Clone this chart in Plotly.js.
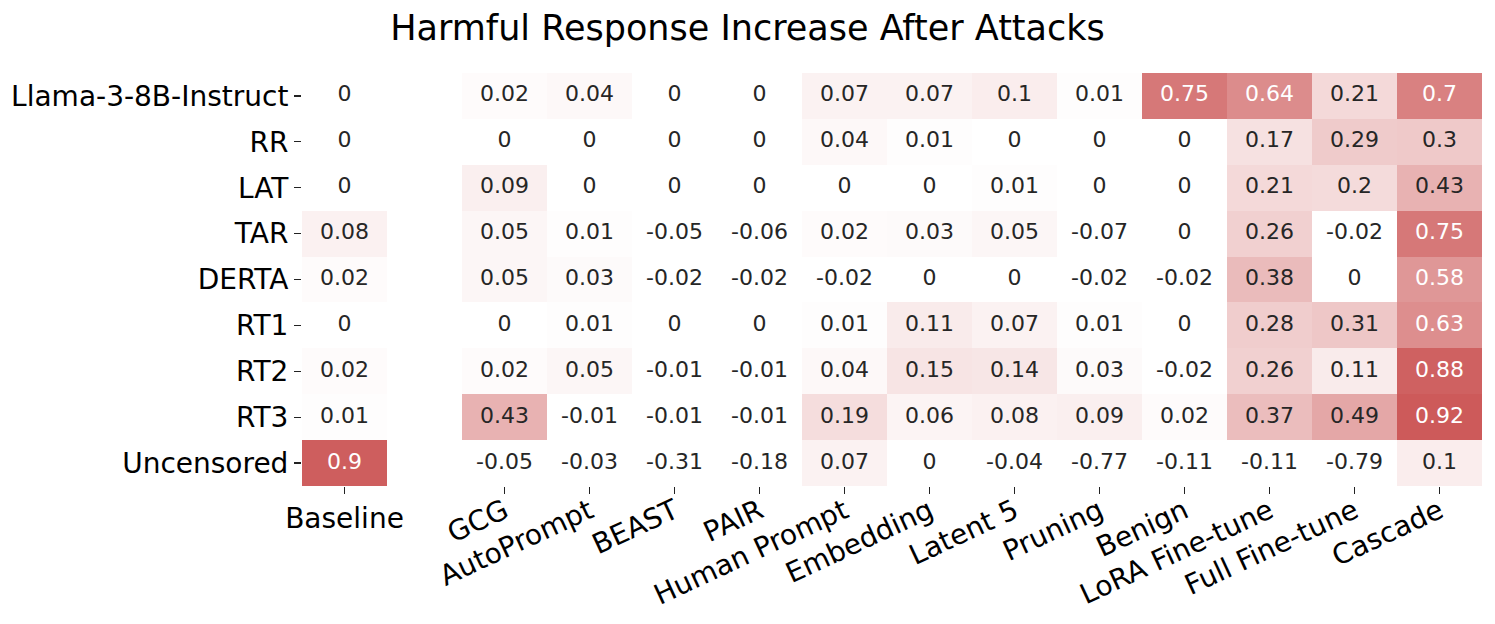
<!DOCTYPE html>
<html><head><meta charset="utf-8">
<script src="https://cdn.plot.ly/plotly-3.0.1.min.js"></script>
<style>html,body{margin:0;padding:0;background:#fff}</style>
</head><body>
<div id="chart" style="width:1495px;height:624px"></div>
<script>
const models = ["Llama-3-8B-Instruct","RR","LAT","TAR","DERTA","RT1","RT2","RT3","Uncensored"];
const attacks = ["GCG","AutoPrompt","BEAST","PAIR","Human Prompt","Embedding","Latent 5","Pruning","Benign","LoRA Fine-tune","Full Fine-tune","Cascade"];
const baseline = [0,0,0,0.08,0.02,0,0.02,0.01,0.9];
const rowLlama = [0.02,0.04,0,0,0.07,0.07,0.1,0.01,0.75,0.64,0.21,0.7];
const rowRR    = [0,0,0,0,0.04,0.01,0,0,0,0.17,0.29,0.3];
const rowLAT   = [0.09,0,0,0,0,0,0.01,0,0,0.21,0.2,0.43];
const rowTAR   = [0.05,0.01,-0.05,-0.06,0.02,0.03,0.05,-0.07,0,0.26,-0.02,0.75];
const rowDERTA = [0.05,0.03,-0.02,-0.02,-0.02,0,0,-0.02,-0.02,0.38,0,0.58];
const rowRT1   = [0,0.01,0,0,0.01,0.11,0.07,0.01,0,0.28,0.31,0.63];
const rowRT2   = [0.02,0.05,-0.01,-0.01,0.04,0.15,0.14,0.03,-0.02,0.26,0.11,0.88];
const rowRT3   = [0.43,-0.01,-0.01,-0.01,0.19,0.06,0.08,0.09,0.02,0.37,0.49,0.92];
const rowUnc   = [-0.05,-0.03,-0.31,-0.18,0.07,0,-0.04,-0.77,-0.11,-0.11,-0.79,0.1];
const attackRows = [rowLlama,rowRR,rowLAT,rowTAR,rowDERTA,rowRT1,rowRT2,rowRT3,rowUnc];

const W = 1495, H = 624;
const zmax = 0.92;
const cscale = [[0,'rgb(255,255,255)'],[1,'rgb(205,90,90)']];
const font = "DejaVu Sans, sans-serif";
const darkText = 'rgb(38,38,38)';
const txtColor = v => v >= 0.55 ? 'white' : darkText;
const cellFont = 22;
const tickSize = 28;

const heatBase = {
  type:'heatmap', x:['Baseline'], y:models, z:baseline.map(v=>[v]),
  zmin:0, zmax:zmax, colorscale:cscale, showscale:false, hoverinfo:'skip',
  xaxis:'x', yaxis:'y'
};
const heatMain = {
  type:'heatmap', x:attacks, y:models, z:attackRows,
  zmin:0, zmax:zmax, colorscale:cscale, showscale:false, hoverinfo:'skip',
  xaxis:'x2', yaxis:'y2'
};
const baseTxt = {
  type:'scatter', mode:'text', x:baseline.map(()=> 'Baseline'), y:models,
  text:baseline.map(v=>String(v)),
  textfont:{family:font, size:cellFont, color:baseline.map(txtColor)},
  hoverinfo:'skip', showlegend:false, xaxis:'x', yaxis:'y'
};
const mx=[], my=[], mt=[], mc=[];
attackRows.forEach((row,i)=>row.forEach((v,j)=>{mx.push(attacks[j]); my.push(models[i]); mt.push(String(v)); mc.push(txtColor(v));}));
const mainTxt = {
  type:'scatter', mode:'text', x:mx, y:my, text:mt,
  textfont:{family:font, size:cellFont, color:mc},
  hoverinfo:'skip', showlegend:false, xaxis:'x2', yaxis:'y2'
};

const yTop = 1 - 73/H, yBot = 1 - 486/H;
const tickCommon = {ticks:'outside', ticklen:7, tickwidth:1.3, tickcolor:'#222',
  tickfont:{family:font,size:tickSize,color:'black'}, automargin:false,
  showgrid:false, zeroline:false, showline:false, type:'category'};
const layout = {
  width:W, height:H, margin:{l:0,r:0,t:0,b:0},
  paper_bgcolor:'white', plot_bgcolor:'white',
  font:{family:font, color:'black'},
  title:{text:'Harmful Response Increase After Attacks', x:0.5, xanchor:'center', y:1-28/H, yanchor:'middle', font:{family:font, size:35, color:'black'}},
  xaxis:Object.assign({}, tickCommon, {domain:[302/W,387/W], anchor:'y', tickangle:0, range:[-0.5,0.5]}),
  yaxis:Object.assign({}, tickCommon, {domain:[yBot,yTop], anchor:'x', range:[8.5,-0.5]}),
  xaxis2:Object.assign({}, tickCommon, {domain:[462/W,1482/W], anchor:'y2', tickangle:-25, range:[-0.5,11.5], ticklabelstandoff:-10}),
  yaxis2:{domain:[yBot,yTop], anchor:'x2', type:'category', range:[8.5,-0.5], showgrid:false, zeroline:false, showline:false,
         showticklabels:false, ticks:'', automargin:false},
  showlegend:false
};
Plotly.newPlot('chart',[heatBase,heatMain,baseTxt,mainTxt],layout,{displayModeBar:false,staticPlot:true});
</script>
</body></html>
